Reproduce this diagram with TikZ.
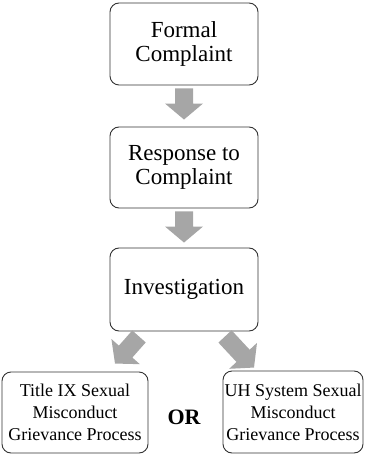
\documentclass[tikz,border=0pt]{standalone}
\usepackage{fontspec}
\setmainfont{Liberation Serif}
\usetikzlibrary{calc}
\definecolor{arrowgray}{HTML}{A6A6A6}
\definecolor{boxline}{HTML}{333333}
\newcommand\blockarrow[2]{%
  \coordinate (hb) at ($(#2)!16pt!(#1)$);
  \fill[arrowgray] ($(#1)!9pt!90:(#2)$) -- ($(hb)!9pt!90:(#2)$) -- ($(hb)!19pt!90:(#2)$) -- (#2)
    -- ($(hb)!19pt!-90:(#2)$) -- ($(hb)!9pt!-90:(#2)$) -- ($(#1)!9pt!-90:(#2)$) -- cycle;
}
\begin{document}
\begin{tikzpicture}[x=1pt,y=-1pt,
  box/.style={draw=boxline, line width=0.9pt, rounded corners=9pt, align=center, inner sep=0pt},
  bigbox/.style={box, minimum width=148pt, font=\fontsize{23}{24}\selectfont},
  smallbox/.style={box, font=\fontsize{18}{22}\selectfont}
]
\useasboundingbox (0,0) rectangle (366,454);

\node[bigbox, minimum height=82pt] (f) at (184,44) {Formal\\Complaint};
\node[bigbox, minimum height=81pt] (r) at (184,167.5) {Response to\\Complaint};
\node[bigbox, minimum height=83pt] (inv) at (184,289.5) {Investigation};
\node[smallbox, minimum width=146pt, minimum height=81pt] (L) at (75,412.5) {Title IX Sexual\\Misconduct\\Grievance Process};
\node[smallbox, minimum width=140pt, minimum height=82pt] (R) at (293,412) {UH System Sexual\\Misconduct\\Grievance Process};
\node[font=\fontsize{22}{24}\selectfont\bfseries] (or) at (184,417) {OR};

\coordinate (a1s) at ($(f.south)+(0,3)$);
\coordinate (a1t) at ($(r.north)+(0,-7)$);
\coordinate (a2s) at ($(r.south)+(0,3)$);
\coordinate (a2t) at ($(inv.north)+(0,-5)$);
\coordinate (a3s) at ($(inv.south)+(-45,5)$);
\coordinate (a3t) at ($(L.north)+(40,-8)$);
\coordinate (a4s) at ($(inv.south)+(41,5)$);
\coordinate (a4t) at ($(R.north)+(-39,-3)$);
\blockarrow{a1s}{a1t}
\blockarrow{a2s}{a2t}
\blockarrow{a3s}{a3t}
\blockarrow{a4s}{a4t}
\end{tikzpicture}
\end{document}
